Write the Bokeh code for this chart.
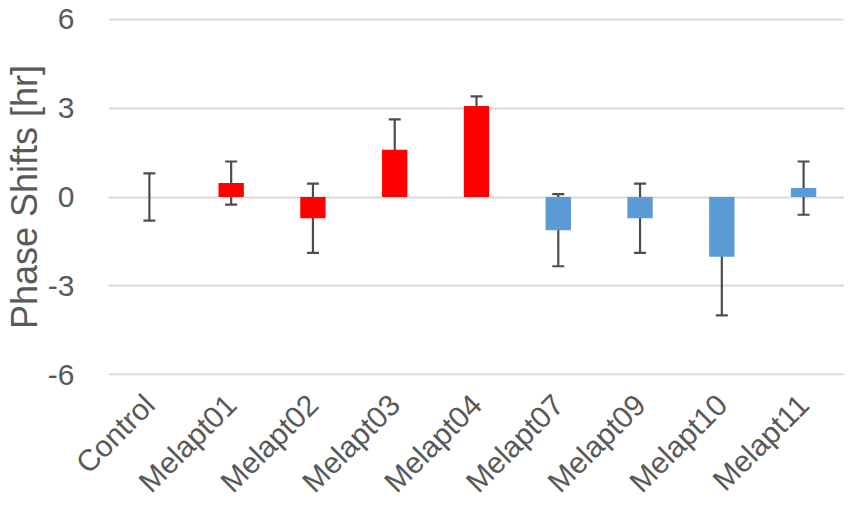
import math
from bokeh.plotting import figure
from bokeh.models import ColumnDataSource, Whisker, TeeHead, FactorRange, Range1d, FixedTicker
from bokeh.embed import file_html
from bokeh.resources import INLINE

categories = ["Control", "Melapt01", "Melapt02", "Melapt03", "Melapt04",
              "Melapt07", "Melapt09", "Melapt10", "Melapt11"]
shifts = [0.0, 0.47, -0.72, 1.6, 3.07, -1.12, -0.72, -2.02, 0.3]
errors = [0.8, 0.73, 1.17, 1.02, 0.33, 1.22, 1.17, 1.98, 0.9]
y_ticks = [-6, -3, 0, 3, 6]
y_tick_labels = ["-6", "-3", "0", "3", "6"]

RED = "#ff0000"
BLUE = "#5b9bd5"
bar_colors = [RED, RED, RED, RED, RED, BLUE, BLUE, BLUE, BLUE]

Y_MIN, Y_MAX = -6.03, 6.03

source = ColumnDataSource(dict(
    x=categories,
    top=shifts,
    upper=[v + e for v, e in zip(shifts, errors)],
    lower=[v - e for v, e in zip(shifts, errors)],
    color=bar_colors,
))

TEXT = "#595959"
FONT = "Liberation Sans"

p = figure(
    x_range=FactorRange(*categories, range_padding=0),
    y_range=Range1d(Y_MIN, Y_MAX),
    width=851, height=514,
    output_backend="svg", toolbar_location=None,
    min_border_left=108, min_border_right=7,
    min_border_top=18, min_border_bottom=139,
)
p.outline_line_color = None
p.background_fill_color = "white"
p.border_fill_color = "white"

p.vbar(x="x", top="top", bottom=0, width=0.31, source=source,
       fill_color="color", line_color=None)

err = Whisker(base="x", upper="upper", lower="lower", source=source,
              line_color="#4d4d4d", line_width=2.2,
              upper_head=TeeHead(size=12, line_color="#4d4d4d", line_width=2.2),
              lower_head=TeeHead(size=12, line_color="#4d4d4d", line_width=2.2))
p.add_layout(err)

p.xgrid.grid_line_color = None
p.ygrid.grid_line_color = "#d9d9d9"
p.ygrid.grid_line_width = 2
p.yaxis.ticker = FixedTicker(ticks=y_ticks)
p.yaxis.major_label_overrides = {t: s for t, s in zip(y_ticks, y_tick_labels)}

for ax in (p.xaxis, p.yaxis):
    ax.axis_line_color = None
    ax.major_tick_line_color = None
    ax.minor_tick_line_color = None
    ax.major_label_text_color = TEXT
    ax.major_label_text_font = FONT

p.yaxis.major_label_text_font_size = "30px"
p.yaxis.major_label_standoff = 28
p.yaxis.axis_label = "Phase Shifts [hr]"
p.yaxis.axis_label_text_font = FONT
p.yaxis.axis_label_text_font_size = "36px"
p.yaxis.axis_label_text_font_style = "normal"
p.yaxis.axis_label_text_color = TEXT
p.yaxis.axis_label_standoff = 0

p.xaxis.major_label_text_font_size = "30px"
p.xaxis.major_label_orientation = math.pi / 4
p.xaxis.major_label_standoff = 18

open("out.html", "w").write(file_html(p, INLINE))
